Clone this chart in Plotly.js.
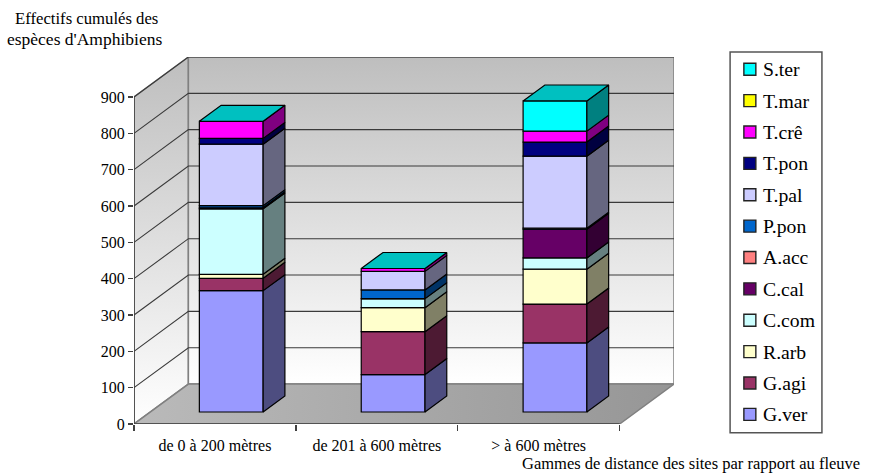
<!DOCTYPE html>
<html>
<head>
<meta charset="utf-8">
<script src="https://cdn.plot.ly/plotly-3.0.0.min.js"></script>
<style>html,body{margin:0;padding:0;background:#fff}</style>
</head>
<body>
<div id="chart" style="width:869px;height:474px"></div>
<script>
// Cumulative amphibian counts per distance band from the river
const categories = ["de 0 à 200 mètres", "de 201 à 600 mètres", "> à 600 mètres"];
const G_ver = [334, 103, 190];
const G_agi = [34, 118, 107];
const R_arb = [11, 66, 96];
const C_com = [180, 25, 31];
const C_cal = [3, 0, 79];
const A_acc = [0, 0, 0];
const P_pon = [6, 24, 3];
const T_pal = [169, 51, 198];
const T_pon = [16, 0, 39];
const T_cre = [47, 8, 30];
const T_mar = [0, 0, 0];
const S_ter = [0, 0, 83];
const yTicks = [0, 100, 200, 300, 400, 500, 600, 700, 800, 900];

const series = [
  {name: "G.ver", v: G_ver, front: "#9999FF", side: "#4D4D80"},
  {name: "G.agi", v: G_agi, front: "#993366", side: "#4D1A33"},
  {name: "R.arb", v: R_arb, front: "#FFFFCC", side: "#808066"},
  {name: "C.com", v: C_com, front: "#CCFFFF", side: "#668080"},
  {name: "C.cal", v: C_cal, front: "#660066", side: "#330033"},
  {name: "A.acc", v: A_acc, front: "#FF8080", side: "#804040"},
  {name: "P.pon", v: P_pon, front: "#0066CC", side: "#003366"},
  {name: "T.pal", v: T_pal, front: "#CCCCFF", side: "#666680"},
  {name: "T.pon", v: T_pon, front: "#000080", side: "#000040"},
  {name: "T.crê", v: T_cre, front: "#FF00FF", side: "#800080"},
  {name: "T.mar", v: T_mar, front: "#FFFF00", side: "#808000"},
  {name: "S.ter", v: S_ter, front: "#00FFFF", side: "#008080"}
];

// Oblique projection: a point at full depth moves right and up by these data amounts
const DX = 0.336, DY = 110;
const FRONT = 0.3, BACK = 0.7, HALF = 0.197;
const VMAX = 900, NCAT = categories.length;
const px = (x, d) => x + d * DX;
const py = (v, d) => v + d * DY;

const traces = [];
const poly = (pts, extra, axes) => Object.assign({
  type: "scatter", mode: "lines", x: pts.map(p => p[0]), y: pts.map(p => p[1]),
  hoverinfo: "skip", showlegend: false, cliponaxis: false
}, axes || {}, extra);

const wallGradient = {type: "vertical", colorscale: [[0, "#FFFFFF"], [1, "#BEBEBE"]]};

// Left wall
traces.push(poly(
  [[0, 0], [0, VMAX], [px(0, 1), py(VMAX, 1)], [px(0, 1), py(0, 1)], [0, 0]],
  {fill: "toself", fillgradient: wallGradient, line: {color: "#808080", width: 1.5}}));
// Back wall
traces.push(poly(
  [[px(0, 1), py(0, 1)], [px(0, 1), py(VMAX, 1)], [px(NCAT, 1), py(VMAX, 1)], [px(NCAT, 1), py(0, 1)], [px(0, 1), py(0, 1)]],
  {fill: "toself", fillgradient: wallGradient, line: {color: "#808080", width: 1.5}}));
// Floor
traces.push(poly(
  [[0, 0], [NCAT, 0], [px(NCAT, 1), py(0, 1)], [px(0, 1), py(0, 1)], [0, 0]],
  {fill: "toself",
   fillgradient: {type: "horizontal", colorscale: [[0, "#BABABA"], [1, "#969696"]]},
   line: {color: "#808080", width: 1.5}}));

// Gridlines folding from the left wall onto the back wall
const gx = [], gy = [];
yTicks.filter(t => t > 0).forEach(t => {
  gx.push(0, px(0, 1), px(NCAT, 1), null);
  gy.push(t, py(t, 1), py(t, 1), null);
});
traces.push(poly([], {x: gx, y: gy, line: {color: "#3A3A3A", width: 1.1}}));

// Axis lines
traces.push(poly([[0, VMAX], [0, 0], [NCAT, 0]], {line: {color: "#404040", width: 1.6}}));

const over = {xaxis: "x2", yaxis: "y2"};
const base = categories.map(() => 0);

series.forEach(s => {
  const bottoms = base.slice();
  // Front faces, drawn as real bars standing partway into the depth of the floor
  traces.push({
    type: "bar", name: s.name, xaxis: "x2", yaxis: "y2",
    x: categories.map((c, i) => px(i + 0.5, FRONT)),
    y: s.v,
    base: bottoms.map(b => py(b, FRONT)),
    width: HALF * 2,
    marker: {color: s.front, line: {color: "#000000", width: 1.2}},
    showlegend: false,
    hoverinfo: "name+text", text: s.v.map(String), textposition: "none"
  });
  // Right-hand faces
  s.v.forEach((val, i) => {
    if (val > 0) {
      const xr = i + 0.5 + HALF, b = bottoms[i], t = b + val;
      traces.push(poly(
        [[px(xr, FRONT), py(b, FRONT)], [px(xr, BACK), py(b, BACK)], [px(xr, BACK), py(t, BACK)], [px(xr, FRONT), py(t, FRONT)], [px(xr, FRONT), py(b, FRONT)]],
        {fill: "toself", fillcolor: s.side, line: {color: "#000000", width: 1.2}}, over));
    }
    base[i] += val;
  });
});

// Top caps take the colour of the last series of the stack
base.forEach((t, i) => {
  const xl = i + 0.5 - HALF, xr = i + 0.5 + HALF;
  traces.push(poly(
    [[px(xl, FRONT), py(t, FRONT)], [px(xr, FRONT), py(t, FRONT)], [px(xr, BACK), py(t, BACK)], [px(xl, BACK), py(t, BACK)], [px(xl, FRONT), py(t, FRONT)]],
    {fill: "toself", fillcolor: "#00C0C0", line: {color: "#000000", width: 1.2}}, over));
});

const FONT = "Liberation Serif, Times New Roman, serif";
const xRange = [0, NCAT + DX], yRange = [0, VMAX + DY];

// Page-pixel helpers for the boxed key on the right and the free-standing captions
const ML = 133.5, MR = 194.5, MT = 56.7, MB = 49.7, W = 869, H = 474;
const pw = W - ML - MR, ph = H - MT - MB;
const toX = p => (p - ML) / pw;
const toY = p => (H - MB - p) / ph;

const shapes = [{
  type: "rect", xref: "paper", yref: "paper",
  x0: toX(730.7), x1: toX(822.7), y0: toY(433), y1: toY(51.7),
  fillcolor: "#FFFFFF", line: {color: "#555555", width: 1.5}
}];
const annotations = [];
const caption = (text, x, y, size) => annotations.push({
  text, xref: "paper", yref: "paper", x: toX(x), y: toY(y),
  xanchor: "left", yanchor: "middle", showarrow: false, font: {family: FONT, size}
});
caption("Effectifs cumulés des", 12, 18, 16.7);
caption("espèces d'Amphibiens", 4, 39, 17.5);
caption("Gammes de distance des sites par rapport au fleuve", 520, 464, 16.5);

// Key rows run top to bottom in reverse stacking order
series.slice().reverse().forEach((s, r) => {
  const cy = 69 + r * 31.42;
  shapes.push({
    type: "rect", xref: "paper", yref: "paper",
    x0: toX(744.5), x1: toX(756.5), y0: toY(cy + 6), y1: toY(cy - 6),
    fillcolor: s.front, line: {color: "#222222", width: 1.4}
  });
  caption(s.name, 762, cy, 19.7);
});

const layout = {
  width: W, height: H,
  margin: {l: ML, r: MR, t: MT, b: MB, pad: 0, autoexpand: false},
  paper_bgcolor: "#FFFFFF", plot_bgcolor: "rgba(0,0,0,0)",
  font: {family: FONT, size: 16, color: "#000000"},
  barmode: "overlay",
  showlegend: false,
  xaxis: {
    range: xRange, showgrid: false, zeroline: false, showline: false,
    tickmode: "array", tickvals: categories.map((c, i) => i + 0.5), ticktext: categories,
    ticks: "", ticklabelstandoff: 10, tickangle: 0, tickfont: {family: FONT, size: 16},
    minor: {tickmode: "array", tickvals: [0, 1, 2, 3], ticks: "outside", ticklen: 6, tickwidth: 1.3, tickcolor: "#404040", showgrid: false}
  },
  yaxis: {
    range: yRange, showgrid: false, zeroline: false, showline: false,
    tickmode: "array", tickvals: yTicks, ticks: "outside", ticklen: 5, tickwidth: 1.3, tickcolor: "#404040",
    tickfont: {family: FONT, size: 16}
  },
  xaxis2: {overlaying: "x", range: xRange, visible: false},
  yaxis2: {overlaying: "y", range: yRange, visible: false},
  shapes, annotations
};

Plotly.newPlot("chart", traces, layout, {displayModeBar: false, staticPlot: true});
</script>
</body>
</html>
